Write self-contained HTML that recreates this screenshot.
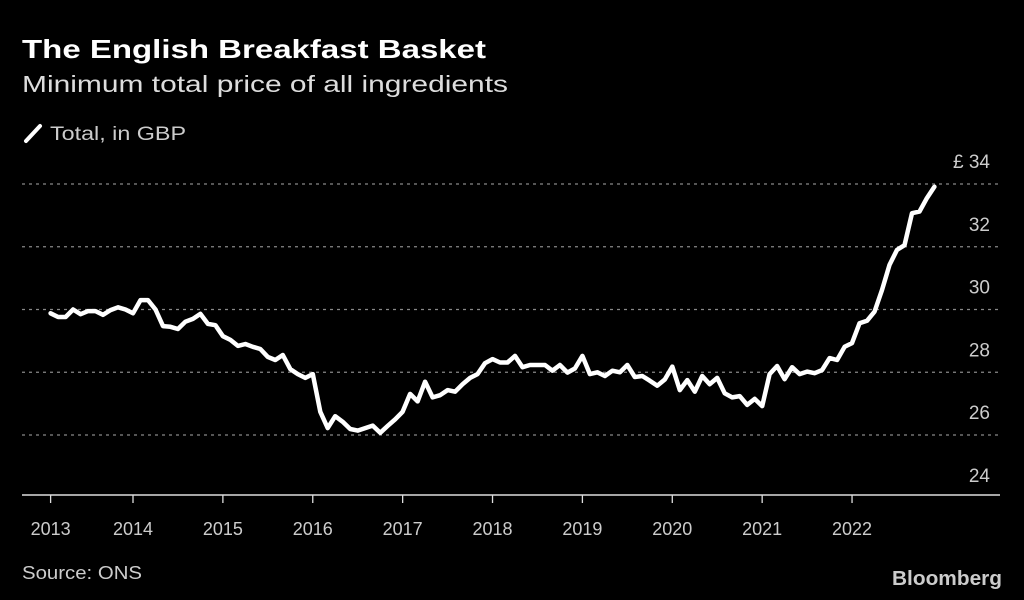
<!DOCTYPE html>
<html><head><meta charset="utf-8"><style>
html,body{margin:0;padding:0;background:#000;width:1024px;height:600px;overflow:hidden}
svg text{font-family:"Liberation Sans",sans-serif}
</style></head><body>
<svg id="chart" width="1024" height="600" viewBox="0 0 1024 600" xmlns="http://www.w3.org/2000/svg">
<rect width="1024" height="600" fill="#000"/>
<text x="22" y="58" fill="#fff" font-size="26" font-weight="bold" textLength="464" lengthAdjust="spacingAndGlyphs">The English Breakfast Basket</text>
<text x="22" y="92" fill="#ddd" font-size="23" textLength="486" lengthAdjust="spacingAndGlyphs">Minimum total price of all ingredients</text>
<line x1="26" y1="141" x2="40" y2="126" stroke="#fff" stroke-width="4" stroke-linecap="round"/>
<text x="50" y="140" fill="#ccc" font-size="19" textLength="136" lengthAdjust="spacingAndGlyphs">Total, in GBP</text>
<g id="grid"></g>
<g id="yticks"></g>
<line x1="22" y1="495" x2="1000" y2="495" stroke="#ddd" stroke-width="1.5"/>
<g id="xticks"></g>
<path id="series" fill="none" stroke="#fff" stroke-width="4.5" stroke-linejoin="round" stroke-linecap="round"/>
<text x="22" y="579" fill="#ccc" font-size="18" textLength="120" lengthAdjust="spacingAndGlyphs">Source: ONS</text>
<text x="1002" y="585" fill="#ccc" font-size="20" font-weight="bold" text-anchor="end" textLength="110" lengthAdjust="spacingAndGlyphs">Bloomberg</text>
</svg>
<script>
const yTickValues = [24, 26, 28, 30, 32, 34];
const yTickLabels = ["24", "26", "28", "30", "32", "£ 34"];
const xTickLabels = ["2013","2014","2015","2016","2017","2018","2019","2020","2021","2022"];
const xTickMonths = [1,12,24,36,48,60,72,84,96,108];
const startMonth = 1; // Feb 2013
const prices = [29.88,29.76,29.76,30.0,29.85,29.95,29.95,29.83,29.98,30.07,30.0,29.88,
30.3,30.3,30.0,29.47,29.45,29.38,29.61,29.7,29.86,29.54,29.5,29.15,
29.03,28.84,28.9,28.81,28.74,28.49,28.39,28.55,28.1,27.94,27.82,27.94,
26.74,26.22,26.6,26.42,26.19,26.14,26.22,26.3,26.07,26.29,26.5,26.74,
27.31,27.07,27.7,27.2,27.27,27.43,27.38,27.62,27.82,27.94,28.29,28.42,
28.31,28.31,28.52,28.16,28.23,28.23,28.23,28.05,28.23,27.99,28.12,28.52,
27.94,28.0,27.88,28.05,28.0,28.23,27.85,27.88,27.73,27.57,27.77,28.18,
27.43,27.75,27.38,27.88,27.62,27.82,27.33,27.2,27.24,26.96,27.15,26.92,
27.94,28.2,27.78,28.16,27.94,28.02,27.97,28.07,28.45,28.39,28.81,28.93,
29.56,29.64,29.93,30.62,31.42,31.9,32.05,33.07,33.12,33.55,33.91];
function xScale(m){ return 133 + (m - 12) * 7.49; }
function yScale(v){ return 184 + (34 - v) * 31.375; }
const NS = "http://www.w3.org/2000/svg";
const grid = document.getElementById('grid');
const yt = document.getElementById('yticks');
yTickValues.forEach((v, i) => {
  const y = yScale(v);
  if (v > 24) {
    const l = document.createElementNS(NS, 'line');
    
    
    l.setAttribute('x1', 22); l.setAttribute('x2', 1000);
    l.setAttribute('y1', y); l.setAttribute('y2', y);
    l.setAttribute('stroke', '#888'); l.setAttribute('stroke-width', '1.3');
    l.setAttribute('stroke-dasharray', '3,4');
    grid.appendChild(l);
  }
  const t = document.createElementNS(NS, 'text');
  
  
  t.setAttribute('x', 990); t.setAttribute('y', y - 16);
  t.setAttribute('text-anchor', 'end');
  t.setAttribute('fill', '#ccc'); t.setAttribute('font-size', '19');
  t.textContent = yTickLabels[i];
  yt.appendChild(t);
});
const xt = document.getElementById('xticks');
xTickLabels.forEach((lab, i) => {
  const x = xScale(xTickMonths[i]);
  const l = document.createElementNS(NS, 'line');
  
  
  l.setAttribute('x1', x); l.setAttribute('x2', x);
  l.setAttribute('y1', 495); l.setAttribute('y2', 503);
  l.setAttribute('stroke', '#ddd'); l.setAttribute('stroke-width', '1.3');
  xt.appendChild(l);
  const t = document.createElementNS(NS, 'text');
  
  
  t.setAttribute('x', x); t.setAttribute('y', 535);
  t.setAttribute('text-anchor', 'middle');
  t.setAttribute('fill', '#ccc'); t.setAttribute('font-size', '18');
  t.textContent = lab;
  xt.appendChild(t);
});
let d = '';
prices.forEach((v, i) => {
  d += (i ? 'L' : 'M') + xScale(startMonth + i).toFixed(1) + ',' + yScale(v).toFixed(1);
});
document.getElementById('series').setAttribute('d', d);
</script>
</body></html>
